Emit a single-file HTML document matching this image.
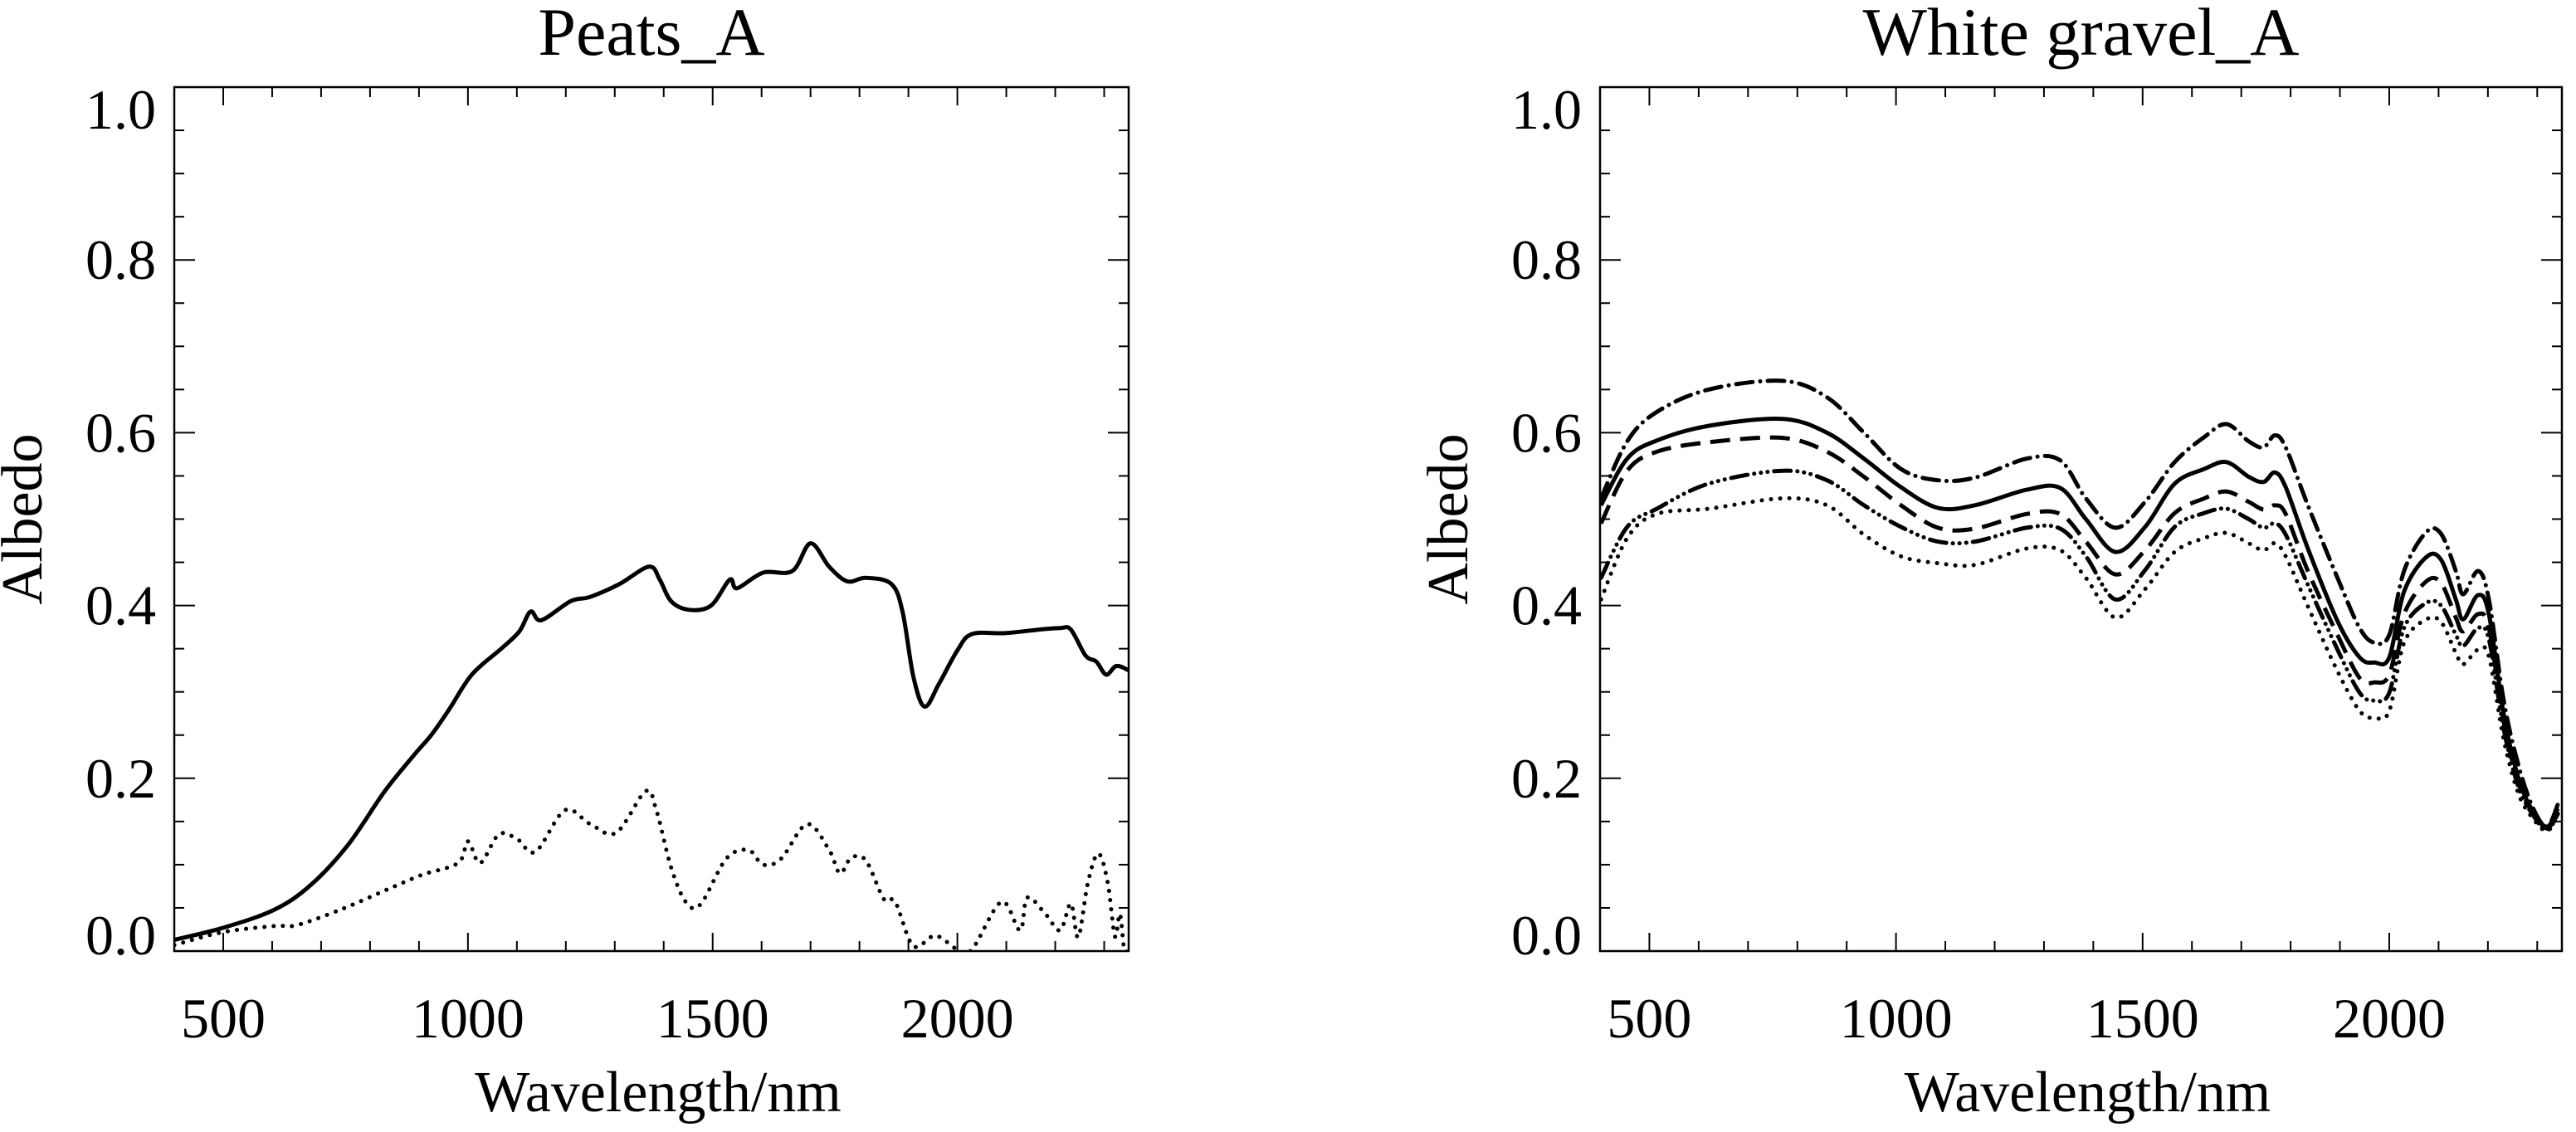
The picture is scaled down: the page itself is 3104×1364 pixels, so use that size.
<!DOCTYPE html>
<html><head><meta charset="utf-8">
<style>
html,body{margin:0;padding:0;background:#fff;}
svg{display:block;}
text{font-family:"Liberation Serif",serif;fill:#000;}
</style></head>
<body>
<svg id="chart" width="3104" height="1364" viewBox="0 0 3104 1364" xmlns="http://www.w3.org/2000/svg"></svg>
<script>
// ---- data ----
const peatWl = [400,500,605,680,755,830,890,925,962,1008,1068,1105,1128,1150,1210,1250,1310,1370,1392,1415,1452,1497,1535,1550,1603,1663,1700,1738,1775,1813,1865,1888,1910,1933,1963,2000,2030,2098,2165,2210,2232,2262,2284,2304,2325,2350];
const peatSolid = [0.013,0.027,0.048,0.077,0.123,0.185,0.227,0.25,0.28,0.32,0.35,0.37,0.393,0.383,0.405,0.41,0.425,0.445,0.43,0.405,0.395,0.40,0.43,0.42,0.438,0.44,0.472,0.445,0.428,0.432,0.425,0.393,0.318,0.283,0.31,0.348,0.367,0.368,0.372,0.374,0.372,0.342,0.335,0.32,0.33,0.325];
const peatDotWl = [400,500,605,650,740,830,905,980,1000,1025,1063,1100,1138,1198,1250,1303,1363,1385,1415,1445,1475,1528,1573,1603,1640,1693,1738,1760,1783,1813,1850,1873,1910,1955,2000,2030,2090,2128,2143,2180,2210,2232,2247,2267,2288,2307,2322,2332,2341,2350];
const peatDotted = [0.007,0.022,0.029,0.03,0.048,0.07,0.088,0.102,0.127,0.102,0.135,0.13,0.115,0.163,0.147,0.137,0.185,0.163,0.097,0.057,0.054,0.107,0.117,0.1,0.107,0.147,0.117,0.09,0.108,0.105,0.06,0.057,0.006,0.018,0.0,-0.003,0.057,0.024,0.062,0.043,0.024,0.055,0.016,0.08,0.113,0.08,0.017,0.043,0.0,-0.004];
const gravelWl = [402,455,515,620,770,860,935,1010,1085,1160,1265,1333,1385,1445,1505,1565,1625,1670,1715,1745,1768,1790,1835,1895,1940,1970,2000,2030,2075,2105,2135,2150,2180,2202,2232,2262,2292,2320,2342];
const gravelDashDot = [0.524,0.59,0.624,0.65,0.66,0.641,0.6,0.558,0.545,0.548,0.57,0.568,0.524,0.49,0.52,0.566,0.595,0.61,0.59,0.583,0.597,0.583,0.516,0.432,0.374,0.357,0.366,0.44,0.485,0.483,0.44,0.413,0.44,0.407,0.29,0.215,0.165,0.144,0.17];
const gravelSolid = [0.516,0.57,0.591,0.608,0.616,0.6,0.57,0.537,0.513,0.516,0.534,0.536,0.5,0.462,0.491,0.541,0.558,0.566,0.549,0.543,0.554,0.537,0.466,0.382,0.34,0.334,0.34,0.416,0.456,0.453,0.407,0.384,0.412,0.39,0.274,0.2,0.161,0.144,0.165];
const gravelDashed = [0.495,0.556,0.578,0.589,0.594,0.578,0.549,0.516,0.49,0.489,0.506,0.506,0.474,0.436,0.464,0.507,0.524,0.532,0.52,0.511,0.516,0.506,0.44,0.366,0.316,0.311,0.32,0.39,0.428,0.426,0.386,0.37,0.39,0.374,0.265,0.195,0.159,0.142,0.161];
const gravelDash3Dot = [0.432,0.491,0.512,0.541,0.556,0.545,0.516,0.491,0.474,0.474,0.49,0.489,0.457,0.407,0.441,0.491,0.507,0.512,0.5,0.49,0.495,0.482,0.424,0.349,0.299,0.29,0.299,0.374,0.403,0.4,0.366,0.353,0.374,0.361,0.257,0.19,0.157,0.14,0.159];
const gravelDotted = [0.407,0.478,0.506,0.512,0.524,0.516,0.482,0.457,0.449,0.447,0.466,0.464,0.432,0.386,0.419,0.462,0.478,0.484,0.472,0.464,0.472,0.457,0.399,0.324,0.278,0.27,0.278,0.357,0.384,0.381,0.345,0.332,0.349,0.341,0.245,0.182,0.153,0.139,0.157];
const xTickLabels = [500,1000,1500,2000];
const yTickLabels = ["0.0","0.2","0.4","0.6","0.8","1.0"];
const xMin = 400, xMax = 2350, yMin = 0, yMax = 1;

const NS = "http://www.w3.org/2000/svg";
const svg = document.getElementById('chart');
function mk(tag, attrs, parent){
  const e = document.createElementNS(NS, tag);
  for (const k in attrs) e.setAttribute(k, attrs[k]);
  (parent||svg).appendChild(e);
  return e;
}
function smoothPath(pts){
  let d = 'M' + pts[0][0].toFixed(1) + ',' + pts[0][1].toFixed(1);
  for (let i = 0; i < pts.length - 1; i++) {
    const p0 = pts[Math.max(0, i - 1)], p1 = pts[i], p2 = pts[i + 1], p3 = pts[Math.min(pts.length - 1, i + 2)];
    const c1x = p1[0] + (p2[0] - p0[0]) / 6, c1y = p1[1] + (p2[1] - p0[1]) / 6;
    const c2x = p2[0] - (p3[0] - p1[0]) / 6, c2y = p2[1] - (p3[1] - p1[1]) / 6;
    d += 'C' + c1x.toFixed(1) + ',' + c1y.toFixed(1) + ' ' + c2x.toFixed(1) + ',' + c2y.toFixed(1) + ' ' + p2[0].toFixed(1) + ',' + p2[1].toFixed(1);
  }
  return d;
}

function panel(L, R, T, B, title, titleName, series){
  const g = mk('g', {});
  
  
  const sx = w => L + (w - xMin) / (xMax - xMin) * (R - L);
  const sy = v => B - (v - yMin) / (yMax - yMin) * (B - T);
  const cid = 'clip-' + titleName;
  const cp = mk('clipPath', {id: cid}, g);
  mk('rect', {x: L, y: T, width: R - L, height: B - T}, cp);
  series.forEach(s => {
    const pts = s.x.map((w, i) => [sx(w), Math.min(B - 2, sy(s.y[i]))]);
    const p = mk('path', {d: smoothPath(pts), fill: 'none', stroke: '#000', 'stroke-width': 5, 'stroke-linejoin': 'round', 'stroke-linecap': s.cap || 'butt', 'clip-path': 'url(#' + cid + ')'}, g);
    if (s.dash) p.setAttribute('stroke-dasharray', s.dash);
    
    
  });
  const fr = mk('rect', {x: L, y: T, width: R - L, height: B - T, fill: 'none', stroke: '#000', 'stroke-width': 2.5}, g);
  
  
  for (let w = 500; w <= xMax; w += 100) {
    const len = (w % 500 === 0) ? 22 : 12;
    const x = sx(w);
    mk('line', {x1: x, y1: B, x2: x, y2: B - len, stroke: '#000', 'stroke-width': 2}, g);
    mk('line', {x1: x, y1: T, x2: x, y2: T + len, stroke: '#000', 'stroke-width': 2}, g);
  }
  for (let k = 1; k < 20; k++) {
    const v = k * 0.05;
    const len = (k % 4 === 0) ? 25 : 12;
    const y = sy(v);
    mk('line', {x1: L, y1: y, x2: L + len, y2: y, stroke: '#000', 'stroke-width': 2}, g);
    mk('line', {x1: R, y1: y, x2: R - len, y2: y, stroke: '#000', 'stroke-width': 2}, g);
  }
  xTickLabels.forEach(w => {
    const t = mk('text', {x: sx(w), y: 1250, 'font-size': 68, 'text-anchor': 'middle'}, g);
    t.textContent = w;
    
    
  });
  yTickLabels.forEach(lbl => {
    const v = parseFloat(lbl);
    let cy = sy(v);
    if (v === 0) cy = B - 19;
    if (v === 1) cy = T + 27;
    const t = mk('text', {x: L - 22, y: cy + 23, 'font-size': 68, 'text-anchor': 'end'}, g);
    t.textContent = lbl;
    
    
  });
  const tt = mk('text', {x: (L + R) / 2, y: 66, 'font-size': 82, 'text-anchor': 'middle'}, g);
  tt.textContent = title;
  
  
  const xl = mk('text', {x: (L + R) / 2 + 8, y: 1339, 'font-size': 70, 'text-anchor': 'middle'}, g);
  xl.textContent = 'Wavelength/nm';
  
  
  const yx = L - 160, yy = (T + B) / 2;
  const yl = mk('text', {x: yx, y: yy, 'font-size': 70, 'text-anchor': 'middle', transform: 'rotate(-90 ' + yx + ' ' + yy + ')'}, g);
  yl.textContent = 'Albedo';
  
  
}

panel(210, 1360, 105, 1146, 'Peats_A', 'peats', [
  {name: 'peat-solid-line', x: peatWl, y: peatSolid},
  {name: 'peat-dotted-line', x: peatDotWl, y: peatDotted, dash: '0.1 11', cap: 'round'}
]);
panel(1928, 3087, 105, 1146, 'White gravel_A', 'white-gravel', [
  {name: 'gravel-dashdot-line', x: gravelWl, y: gravelDashDot, dash: '20 9 0.1 9', cap: 'round'},
  {name: 'gravel-solid-line', x: gravelWl, y: gravelSolid},
  {name: 'gravel-dashed-line', x: gravelWl, y: gravelDashed, dash: '24 12'},
  {name: 'gravel-dash-dot-dot-dot-line', x: gravelWl, y: gravelDash3Dot, dash: '20 8 0.1 8 0.1 8 0.1 8', cap: 'round'},
  {name: 'gravel-dotted-line', x: gravelWl, y: gravelDotted, dash: '0.1 11', cap: 'round'}
]);
</script>
</body></html>
